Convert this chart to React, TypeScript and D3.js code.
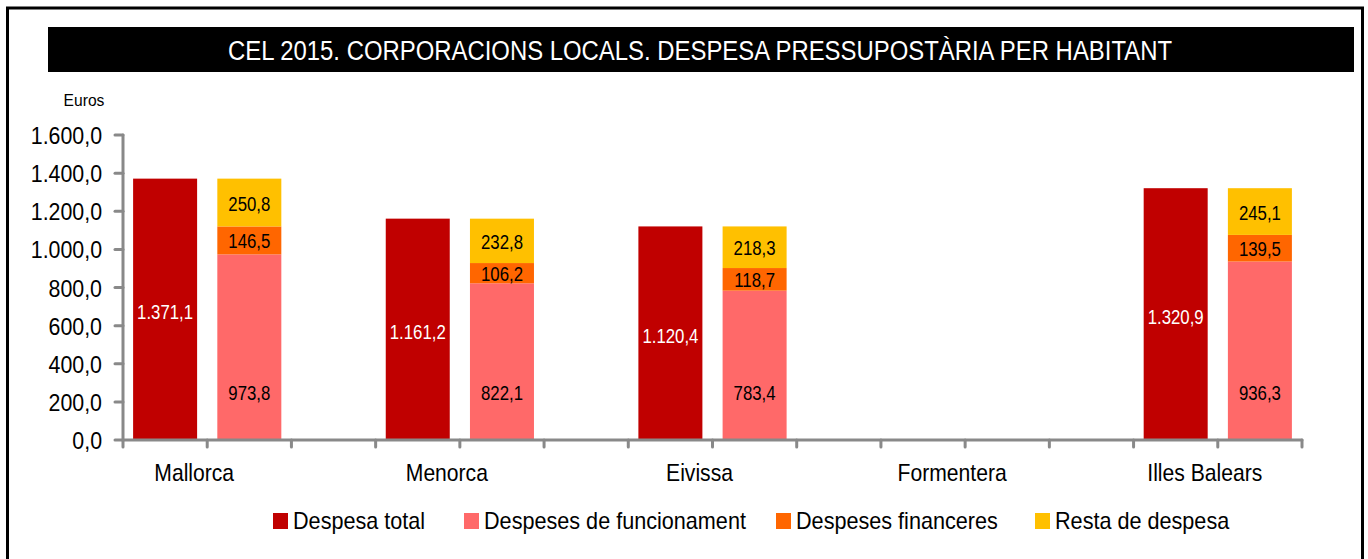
import React from 'react';
import * as d3 from 'd3';

const W = 1368;
const H = 559;
const font = '"Liberation Sans", Arial, sans-serif';

// data
const islands = ['Mallorca', 'Menorca', 'Eivissa', 'Formentera', 'Illes Balears'];
const despesaTotal = [1371.1, 1161.2, 1120.4, null, 1320.9];
const funcionament = [973.8, 822.1, 783.4, null, 936.3];
const financeres = [146.5, 106.2, 118.7, null, 139.5];
const resta = [250.8, 232.8, 218.3, null, 245.1];
const yTicks = [0, 200, 400, 600, 800, 1000, 1200, 1400, 1600];

const legendItems = [
  { name: 'Despesa total', color: '#C00000', x: 273 },
  { name: 'Despeses de funcionament', color: '#FF6969', x: 464 },
  { name: 'Despeses financeres', color: '#FF6600', x: 776 },
  { name: 'Resta de despesa', color: '#FFC000', x: 1035 },
];

const margin = { left: 123, right: 1302, top: 135, bottom: 440 };

const locale = d3.formatLocale({ decimal: ',', thousands: '.', grouping: [3], currency: ['', '€'] });
const fmt = locale.format(',.1f');

// each island gets 3 slots: total, breakdown, blank (last island has no blank)
const slots = d3.range(islands.length * 3 - 1).map(String);
const x = d3.scaleBand().domain(slots).range([margin.left, margin.right]).paddingInner(0.24).paddingOuter(0.12);
const y = d3.scaleLinear().domain([0, 1600]).range([margin.bottom, margin.top]);
const step = x.step();
const tickXs = d3.range(slots.length + 1).map(i => margin.left + i * step);

// narrow text: no Arial Narrow here, so squeeze Liberation Sans
function Txt({ x, y, size, sx = 0.88, anchor = 'start', fill = '#000', children }: any) {
  return (
    <text transform={`translate(${x},${y}) scale(${sx},1)`} textAnchor={anchor} fontFamily={font}
      fontSize={size} fill={fill}>{children}</text>
  );
}

export default function App() {
  const bw = x.bandwidth();
  const colors = ['#FF6969', '#FF6600', '#FFC000'];
  const stacks = islands.map((name, i) => {
    const vals = [funcionament[i], financeres[i], resta[i]];
    let acc = 0;
    return vals.map((v, k) => {
      if (v == null) return null;
      const seg = { y0: acc, y1: acc + v, v, color: colors[k] };
      acc += v;
      return seg;
    });
  });

  return (
    <div style={{ position: 'absolute', left: 0, top: 0 }}>
      <svg width={W} height={H} style={{ display: 'block' }}>
        <rect x={0} y={0} width={W} height={H} fill="#fff" />
        <rect x={7.5} y={8} width={1355} height={560} fill="none" stroke="#000" strokeWidth={3} />
        <rect x={48} y={27} width={1306} height={45} fill="#000" />
        <text x={700} y={60} textAnchor="middle" fill="#fff" fontFamily={font} fontSize={27}
          textLength={944} lengthAdjust="spacingAndGlyphs">
          CEL 2015. CORPORACIONS LOCALS. DESPESA  PRESSUPOSTÀRIA PER HABITANT
        </text>

        <Txt x={84} y={106} size={17} sx={0.92} anchor="middle">Euros</Txt>

        {/* y axis */}
        {yTicks.map(t => (
          <g key={t}>
            <line x1={115} x2={margin.left} y1={y(t)} y2={y(t)} stroke="#898989" strokeWidth={3} strokeLinecap="round" />
            <Txt x={102} y={y(t) + 9} size={24} sx={0.89} anchor="end">{fmt(t)}</Txt>
          </g>
        ))}

        {/* bars */}
        {islands.map((name, i) => {
          const tx = x(String(i * 3))!;
          const sx = x(String(i * 3 + 1))!;
          const tot = despesaTotal[i];
          return (
            <g key={name}>
              {tot != null && (
                <g>
                  <rect x={tx} y={y(tot)} width={bw} height={y(0) - y(tot)} fill="#C00000" />
                  <Txt x={tx + bw / 2} y={(y(tot) + y(0)) / 2 + 10} size={21} sx={0.8} anchor="middle"
                    fill="#fff">{fmt(tot)}</Txt>
                </g>
              )}
              {stacks[i].map((s, k) => s && (
                <g key={k}>
                  <rect x={sx} y={y(s.y1)} width={bw} height={y(s.y0) - y(s.y1)} fill={s.color} />
                  <Txt x={sx + bw / 2} y={(k === 0 ? y(250) : (y(s.y1) + y(s.y0)) / 2) + 8} size={21} sx={0.8}
                    anchor="middle">{fmt(s.v)}</Txt>
                </g>
              ))}
              <Txt x={sx - step * 0.12 - 13} y={481} size={24} sx={0.88} anchor="middle">{name}</Txt>
            </g>
          );
        })}

        {/* axes */}
        <line x1={margin.left} x2={margin.right} y1={y(0)} y2={y(0)} stroke="#898989" strokeWidth={3} strokeLinecap="round" />
        {tickXs.map((tx, i) => (
          <line key={i} x1={tx} x2={tx} y1={y(0)} y2={y(0) + 7} stroke="#898989" strokeWidth={3} strokeLinecap="round" />
        ))}
        <line x1={margin.left} x2={margin.left} y1={margin.top} y2={margin.bottom} stroke="#898989" strokeWidth={3} strokeLinecap="round" />

        {/* legend */}
        {legendItems.map(l => (
          <g key={l.name}>
            <rect x={l.x} y={513} width={15} height={16} fill={l.color} />
            <Txt x={l.x + 20} y={529} size={23} sx={0.94}>{l.name}</Txt>
          </g>
        ))}
      </svg>
    </div>
  );
}
